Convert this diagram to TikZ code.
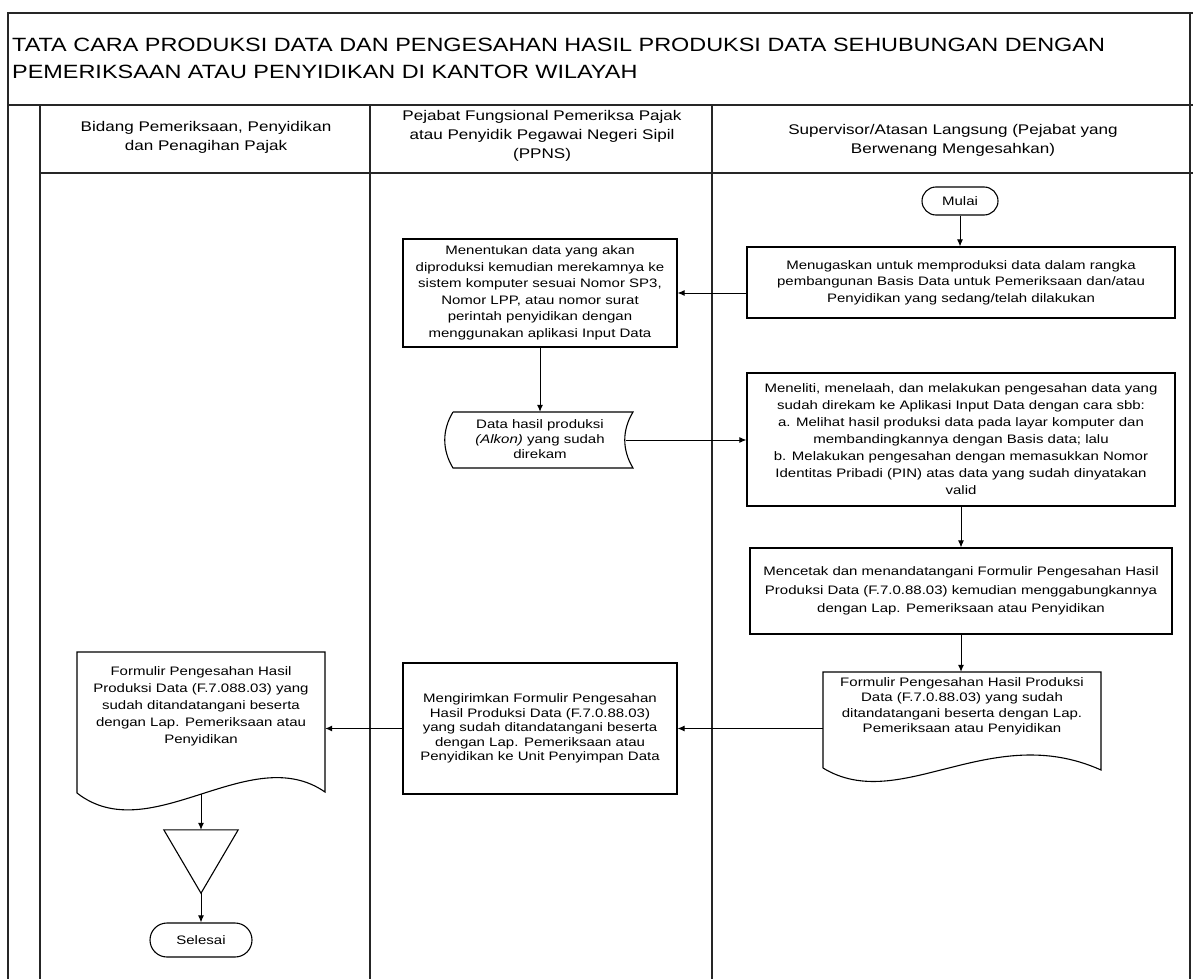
\documentclass[tikz,border=0pt]{standalone}
\usepackage{fontspec}
\setmainfont{Liberation Sans}[FakeStretch=1.22]
\usetikzlibrary{arrows.meta,shapes.misc}
\begin{document}
\begin{tikzpicture}[x=1pt,y=-1pt,
  lane/.style={line width=1.3pt, draw=black!85},
  box/.style={draw, line width=1.1pt, align=center, inner sep=0pt, font=\fontsize{12.3}{16.5}\selectfont},
  txt/.style={align=center, inner sep=0pt, font=\fontsize{12.3}{16.5}\selectfont},
  ghost/.style={inner sep=0pt, draw=none},
  outline/.style={line width=1.1pt},
  term/.style={draw, rounded rectangle, line width=1.1pt, inner sep=0pt, font=\fontsize{12.3}{15}\selectfont},
  head/.style={align=center, inner sep=0pt, font=\fontsize{14}{19}\selectfont},
  ttl/.style={anchor=base west, inner sep=0pt, font=\fontsize{19.2}{27}\selectfont},
  arr/.style={-{Latex[length=7pt,width=6pt]}, line width=1pt}]
\useasboundingbox (0,0) rectangle (1193,979);
\fill[white] (0,0) rectangle (1193,979);

% frame and lanes
\draw[lane] (8,979) -- (8,13) -- (1193,13);
\draw[lane] (1190,13) -- (1190,979);
\draw[lane] (8,105) -- (1193,105);
\draw[lane] (40,105) -- (40,979);
\draw[lane] (40,173) -- (1193,173);
\draw[lane] (370,105) -- (370,979);
\draw[lane] (712,105) -- (712,979);

% title
\node[ttl] (t1) at (12,52) {TATA CARA PRODUKSI DATA DAN PENGESAHAN HASIL PRODUKSI DATA SEHUBUNGAN DENGAN};
\node[ttl] (t2) at (12,79) {PEMERIKSAAN ATAU PENYIDIKAN DI KANTOR WILAYAH};

% headers
\node[head] (h1) at (206,137) {Bidang Pemeriksaan, Penyidikan\\dan Penagihan Pajak};
\node[head] (h2) at (542,136) {Pejabat Fungsional Pemeriksa Pajak\\atau Penyidik Pegawai Negeri Sipil\\(PPNS)};
\node[head] (h3) at (953,140) {Supervisor/Atasan Langsung (Pejabat yang\\Berwenang Mengesahkan)};

% nodes
\node[term, minimum width=76pt, minimum height=28pt] (mulai) at (960,201) {Mulai};
\node[box, minimum width=428pt, minimum height=71pt] (A) at (961,282.5)
  {Menugaskan untuk memproduksi data dalam rangka\\pembangunan Basis Data untuk Pemeriksaan dan/atau\\Penyidikan yang sedang/telah dilakukan};
\node[box, minimum width=274pt, minimum height=108pt] (B) at (540,293)
  {Menentukan data yang akan\\diproduksi kemudian merekamnya ke\\sistem komputer sesuai Nomor SP3,\\Nomor LPP, atau nomor surat\\perintah penyidikan dengan\\menggunakan aplikasi Input Data};
\node[ghost, minimum width=186pt, minimum height=56pt] (C) at (540,440) {};
\draw[outline] (453,412) -- (633,412) .. controls (622,430) and (622,450) .. (633,468)
  -- (453,468) .. controls (442,450) and (442,430) .. (453,412);
\node[txt, font=\fontsize{12.3}{15}\selectfont] (Ct) at (540,439) {Data hasil produksi\\\textit{(Alkon)} yang sudah\\direkam};
\node[box, minimum width=428pt, minimum height=133pt, font=\fontsize{12.3}{17}\selectfont] (D) at (961,439.5)
  {Meneliti, menelaah, dan melakukan pengesahan data yang\\sudah direkam ke Aplikasi Input Data dengan cara sbb:\\a. Melihat hasil produksi data pada layar komputer dan\\membandingkannya dengan Basis data; lalu\\b. Melakukan pengesahan dengan memasukkan Nomor\\Identitas Pribadi (PIN) atas data yang sudah dinyatakan\\valid};
\node[box, minimum width=422pt, minimum height=86pt, font=\fontsize{12.3}{18.5}\selectfont] (E) at (961,591)
  {Mencetak dan menandatangani Formulir Pengesahan Hasil\\Produksi Data (F.7.0.88.03) kemudian menggabungkannya\\dengan Lap. Pemeriksaan atau Penyidikan};
\node[ghost, minimum width=278pt, minimum height=96pt] (F) at (962,720) {};
\draw[outline] (823,768) -- (823,672) -- (1101,672) -- (1101,770)
  .. controls (990,720) and (900,815) .. (823,768);
\node[txt, anchor=north, font=\fontsize{12.3}{15.5}\selectfont] (Ft) at (962,677)
  {Formulir Pengesahan Hasil Produksi\\Data (F.7.0.88.03) yang sudah\\ditandatangani beserta dengan Lap.\\Pemeriksaan atau Penyidikan};
\node[box, minimum width=274pt, minimum height=131pt, font=\fontsize{12.3}{14.5}\selectfont] (G) at (540,728.5)
  {Mengirimkan Formulir Pengesahan\\Hasil Produksi Data (F.7.0.88.03)\\yang sudah ditandatangani beserta\\dengan Lap. Pemeriksaan atau\\Penyidikan ke Unit Penyimpan Data};
\node[ghost, minimum width=248pt, minimum height=141pt] (H) at (201,722.5) {};
\draw[outline] (77,793) -- (77,652) -- (325,652) -- (325,792)
  .. controls (250,740) and (150,850) .. (77,793);
\node[txt, anchor=north, font=\fontsize{12.3}{17}\selectfont] (Ht) at (201,666)
  {Formulir Pengesahan Hasil\\Produksi Data (F.7.088.03) yang\\sudah ditandatangani beserta\\dengan Lap. Pemeriksaan atau\\Penyidikan};
\coordinate (Hb) at (201,794);
\node[ghost, minimum width=74pt, minimum height=63pt] (T) at (201,861.5) {};
\draw[outline] (T.north west) -- (T.north east) -- (T.south) -- cycle;
\node[term, minimum width=102pt, minimum height=34pt] (selesai) at (201,940) {Selesai};

% connectors
\draw[arr] (mulai.south) -- (mulai.south |- A.north);
\draw[arr] (A.west |- B.east) -- (B.east);
\draw[arr] (B.south) -- (C.north);
\draw[arr] ([xshift=-7pt]C.east) -- (C.east -| D.west);
\draw[arr] (D.south) -- (E.north);
\draw[arr] (E.south) -- (E.south |- F.north);
\draw[arr] (F.west |- G.east) -- (G.east);
\draw[arr] (G.west) -- (G.west -| H.east);
\draw[arr] (Hb) -- (T.north);
\draw[arr] (T.south) -- (selesai.north);
\end{tikzpicture}
\end{document}
